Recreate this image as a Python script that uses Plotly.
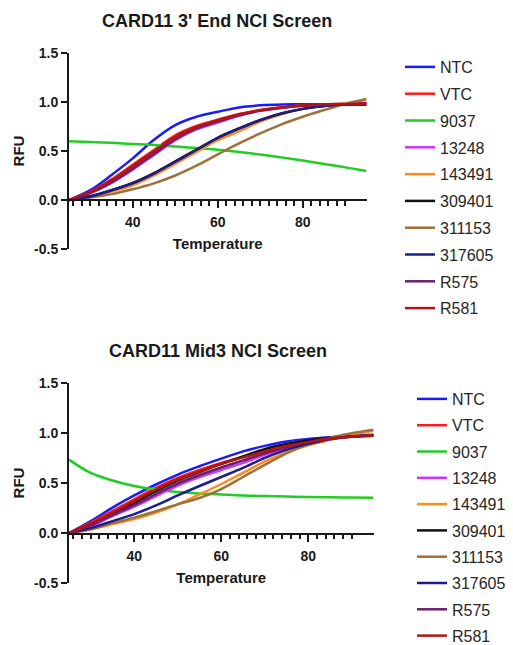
import plotly.graph_objects as go

# ---------------- data ----------------
temperature = [25, 30, 35, 40, 45, 50, 55, 60, 65, 70, 75, 80, 85, 90, 95]
series_names = ["NTC", "VTC", "9037", "13248", "143491", "309401", "311153", "317605", "R575", "R581"]
series_colors = ["#1a1aff", "#ff1a1a", "#22cc22", "#cc33ff", "#ff8c1a", "#111111",
                 "#a0703a", "#1c1c8c", "#6a1f6a", "#b01515"]

# Chart 1: CARD11 3' End NCI Screen
end3_ntc    = [0, 0.10, 0.255, 0.425, 0.615, 0.765, 0.85, 0.90, 0.945, 0.966, 0.975, 0.976, 0.976, 0.975, 0.973]
end3_vtc    = [0, 0.085, 0.21, 0.36, 0.51, 0.66, 0.755, 0.82, 0.877, 0.918, 0.946, 0.966, 0.976, 0.98, 0.985]
end3_9037   = [0.60, 0.592, 0.583, 0.572, 0.56, 0.546, 0.53, 0.512, 0.49, 0.465, 0.435, 0.403, 0.368, 0.333, 0.296]
end3_13248  = [0, 0.07, 0.175, 0.31, 0.46, 0.61, 0.72, 0.79, 0.86, 0.91, 0.94, 0.962, 0.972, 0.978, 0.985]
end3_143491 = [0, 0.03, 0.085, 0.15, 0.25, 0.37, 0.49, 0.61, 0.70, 0.80, 0.874, 0.93, 0.963, 0.986, 1.02]
end3_309401 = [0, 0.038, 0.10, 0.175, 0.275, 0.395, 0.515, 0.635, 0.73, 0.815, 0.882, 0.93, 0.96, 0.975, 0.98]
end3_311153 = [0, 0.025, 0.06, 0.11, 0.17, 0.25, 0.35, 0.465, 0.578, 0.68, 0.772, 0.85, 0.918, 0.98, 1.03]
end3_317605 = [0, 0.035, 0.10, 0.17, 0.27, 0.39, 0.51, 0.635, 0.73, 0.816, 0.884, 0.93, 0.96, 0.975, 0.98]
end3_r575   = [0, 0.072, 0.18, 0.32, 0.47, 0.62, 0.73, 0.80, 0.865, 0.912, 0.942, 0.963, 0.973, 0.978, 0.98]
end3_r581   = [0, 0.08, 0.20, 0.345, 0.495, 0.645, 0.745, 0.812, 0.872, 0.915, 0.944, 0.965, 0.975, 0.98, 0.985]

# Chart 2: CARD11 Mid3 NCI Screen
mid3_ntc    = [0, 0.12, 0.255, 0.376, 0.485, 0.584, 0.667, 0.743, 0.815, 0.87, 0.914, 0.94, 0.957, 0.97, 0.98]
mid3_vtc    = [0, 0.105, 0.22, 0.337, 0.452, 0.55, 0.63, 0.70, 0.76, 0.815, 0.87, 0.914, 0.947, 0.964, 0.97]
mid3_9037   = [0.733, 0.60, 0.525, 0.47, 0.435, 0.41, 0.396, 0.385, 0.375, 0.37, 0.365, 0.36, 0.357, 0.355, 0.353]
mid3_13248  = [0, 0.07, 0.17, 0.264, 0.37, 0.475, 0.56, 0.63, 0.70, 0.78, 0.848, 0.904, 0.94, 0.964, 0.977]
mid3_143491 = [0, 0.035, 0.09, 0.14, 0.205, 0.287, 0.386, 0.49, 0.60, 0.716, 0.805, 0.875, 0.93, 0.98, 1.02]
mid3_309401 = [0, 0.09, 0.19, 0.30, 0.42, 0.525, 0.61, 0.69, 0.766, 0.838, 0.888, 0.924, 0.95, 0.965, 0.97]
mid3_311153 = [0, 0.04, 0.10, 0.155, 0.22, 0.287, 0.35, 0.44, 0.56, 0.68, 0.795, 0.885, 0.95, 0.995, 1.03]
mid3_317605 = [0, 0.05, 0.12, 0.19, 0.277, 0.376, 0.47, 0.56, 0.65, 0.75, 0.83, 0.89, 0.937, 0.964, 0.977]
mid3_r575   = [0, 0.08, 0.18, 0.28, 0.39, 0.495, 0.58, 0.655, 0.725, 0.795, 0.855, 0.905, 0.94, 0.962, 0.975]
mid3_r581   = [0, 0.095, 0.205, 0.32, 0.435, 0.535, 0.615, 0.69, 0.755, 0.815, 0.868, 0.91, 0.944, 0.962, 0.97]

end3_series = [end3_ntc, end3_vtc, end3_9037, end3_13248, end3_143491, end3_309401,
               end3_311153, end3_317605, end3_r575, end3_r581]
mid3_series = [mid3_ntc, mid3_vtc, mid3_9037, mid3_13248, mid3_143491, mid3_309401,
               mid3_311153, mid3_317605, mid3_r575, mid3_r581]

chart_titles = ["CARD11 3' End NCI Screen", "CARD11 Mid3 NCI Screen"]
x_title = "Temperature"
y_title = "RFU"
y_tickvals = [-0.5, 0, 0.5, 1.0, 1.5]
y_ticktext = ["-0.5", "0.0", "0.5", "1.0", "1.5"]
x_tickvals = [40, 60, 80]
x_minor_tickvals = [26, 28, 30, 32, 34, 36, 38, 42, 44, 46, 48, 50, 52, 54, 56, 58,
                    62, 64, 66, 68, 70, 72, 74, 76, 78, 82, 84, 86, 88, 90]

# ---------------- figure ----------------
# the page body has an 8px margin, so the figure starts at (8, 8) in the window
OFF = 8
W, H = 513 - OFF, 645 - OFF
FONT = "Liberation Sans, Arial, sans-serif"
fig = go.Figure()

for i, name in enumerate(series_names):
    fig.add_trace(go.Scatter(
        x=temperature, y=end3_series[i], name=name, mode="lines",
        line=dict(color=series_colors[i], width=2.5, shape="spline", smoothing=1),
        xaxis="x", yaxis="y", legend="legend", legendgroup="a" + str(i)))
for i, name in enumerate(series_names):
    fig.add_trace(go.Scatter(
        x=temperature, y=mid3_series[i], name=name, mode="lines",
        line=dict(color=series_colors[i], width=2.5, shape="spline", smoothing=1),
        xaxis="x2", yaxis="y2", legend="legend2", legendgroup="b" + str(i)))

def px_x(p):
    return (p - OFF) / W

def px_y(p):
    return 1 - (p - OFF) / H

tickfont = dict(family=FONT, size=14, color="#1a1a1a", weight="bold")
titlefont = dict(family=FONT, size=15, color="#1a1a1a", weight="bold")

def xaxis_cfg(left, right, zero_y):
    return dict(domain=[px_x(left), px_x(right)], range=[25, 95], anchor="free",
                position=px_y(zero_y), showline=True, linewidth=2, linecolor="#1a1a1a",
                ticks="outside", ticklen=7, tickwidth=2, tickcolor="#1a1a1a",
                tickvals=x_tickvals, tickfont=tickfont, automargin=False,
                ticklabelstandoff=2,
                minor=dict(ticks="outside", ticklen=4.5, tickwidth=1.5, tickcolor="#1a1a1a",
                           tickvals=x_minor_tickvals, showgrid=False),
                showgrid=False, zeroline=False,
                title=dict(text=x_title, font=titlefont, standoff=9))

def yaxis_cfg(top, bottom, xname):
    return dict(domain=[px_y(bottom), px_y(top)], range=[-0.5, 1.5], anchor=xname,
                showline=True, linewidth=2, linecolor="#1a1a1a", automargin=False,
                ticks="outside", ticklen=6, tickwidth=2, tickcolor="#1a1a1a",
                tickvals=y_tickvals, ticktext=y_ticktext, tickfont=tickfont,
                showgrid=False, zeroline=False,
                title=dict(text=y_title, font=titlefont, standoff=6))

legend_common = dict(font=dict(family=FONT, size=16, color="#262626"),
                     xanchor="left", yanchor="top",
                     bgcolor="rgba(0,0,0,0)", borderwidth=0, itemwidth=30,
                     itemclick=False, xref="container", yref="container")

fig.update_layout(
    template="none",
    width=W, height=H, autosize=False,
    margin=dict(l=0, r=0, t=0, b=0, autoexpand=False),
    paper_bgcolor="white", plot_bgcolor="white",
    font=dict(family=FONT, color="#1a1a1a"),
    xaxis=xaxis_cfg(69, 366.5, 200),
    yaxis=yaxis_cfg(53, 249, "x"),
    xaxis2=xaxis_cfg(69, 373.5, 533.7),
    yaxis2=yaxis_cfg(382.7, 583.3, "x2"),
    legend=dict(x=px_x(400), y=px_y(50), tracegroupgap=3, **legend_common),
    legend2=dict(x=px_x(412), y=px_y(382), tracegroupgap=2.5, **legend_common),
    annotations=[
        dict(text=chart_titles[0], x=px_x(217), y=px_y(21), xref="paper", yref="paper",
             showarrow=False, xanchor="center", yanchor="middle",
             font=dict(family=FONT, size=18, color="#1a1a1a", weight="bold")),
        dict(text=chart_titles[1], x=px_x(218), y=px_y(351), xref="paper", yref="paper",
             showarrow=False, xanchor="center", yanchor="middle",
             font=dict(family=FONT, size=18, color="#1a1a1a", weight="bold")),
    ],
    showlegend=True,
)

fig.write_html("out.html")
